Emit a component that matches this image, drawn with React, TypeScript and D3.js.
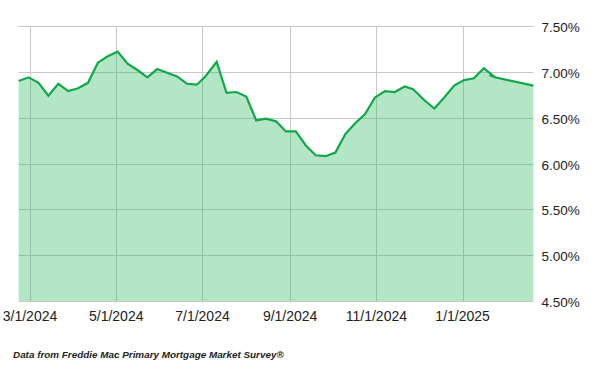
import React from "react";
import * as d3 from "d3";

const dates: string[] = [
  "2024-02-22","2024-02-29","2024-03-07","2024-03-14","2024-03-21","2024-03-28",
  "2024-04-04","2024-04-11","2024-04-18","2024-04-25","2024-05-02","2024-05-09",
  "2024-05-16","2024-05-23","2024-05-30","2024-06-06","2024-06-13","2024-06-20",
  "2024-06-27","2024-07-03","2024-07-11","2024-07-18","2024-07-25","2024-08-01",
  "2024-08-08","2024-08-15","2024-08-22","2024-08-29","2024-09-05","2024-09-12",
  "2024-09-19","2024-09-26","2024-10-03","2024-10-10","2024-10-17","2024-10-24",
  "2024-10-31","2024-11-07","2024-11-14","2024-11-21","2024-11-27","2024-12-05",
  "2024-12-12","2024-12-19","2024-12-26","2025-01-02","2025-01-09","2025-01-16",
  "2025-01-24","2025-02-20",
];
const rates: number[] = [
  6.90,6.94,6.88,6.74,6.87,6.79,
  6.82,6.88,7.10,7.17,7.22,7.09,
  7.02,6.94,7.03,6.99,6.95,6.87,
  6.86,6.95,7.11,6.77,6.78,6.73,
  6.47,6.49,6.46,6.35,6.35,6.20,
  6.09,6.08,6.12,6.32,6.44,6.54,
  6.72,6.79,6.78,6.84,6.81,6.69,
  6.60,6.72,6.85,6.91,6.93,7.04,
  6.94,6.85,
];
const stubDates: string[] = ["2025-01-20", "2025-01-24"];
const stubRates: number[] = [6.965, 6.94];

const xTickDates: string[] = ["2024-03-01","2024-05-01","2024-07-01","2024-09-01","2024-11-01","2025-01-01"];
const xTickLabels: string[] = ["3/1/2024","5/1/2024","7/1/2024","9/1/2024","11/1/2024","1/1/2025"];
const yTicks: number[] = [4.5, 5.0, 5.5, 6.0, 6.5, 7.0, 7.5];
const footnote = "Data from Freddie Mac Primary Mortgage Market Survey®";

const parse = d3.utcParse("%Y-%m-%d");

export default function App() {
  const W = 600, H = 371;
  const x = d3.scaleUtc()
    .domain([parse("2024-02-22")!, parse("2025-02-20")!])
    .range([18.7, 533.3]);
  const y = d3.scaleLinear().domain([4.5, 7.5]).range([301, 26]);

  const pts = dates.map((d, i) => ({ d: parse(d)!, v: rates[i] }));
  const stub = stubDates.map((d, i) => ({ d: parse(d)!, v: stubRates[i] }));

  const line = d3.line<{ d: Date; v: number }>().x(p => x(p.d)).y(p => y(p.v));
  const area = d3.area<{ d: Date; v: number }>().x(p => x(p.d)).y0(y(4.5)).y1(p => y(p.v));

  const font = "'Liberation Sans', Arial, sans-serif";
  const x0 = 18.5, x1 = 533.5;

  return (
    <svg width={W} height={H} style={{ position: "absolute", left: 0, top: 0, background: "#fff" }}>
      {yTicks.map(t => (
        <line key={"h" + t} x1={x0} x2={x1} y1={Math.round(y(t)) + 0.5} y2={Math.round(y(t)) + 0.5}
          stroke="#c8c8c8" strokeWidth={1} />
      ))}
      {xTickDates.map(t => {
        const xx = Math.round(x(parse(t)!)) + 0.5;
        return <line key={"v" + t} x1={xx} x2={xx} y1={y(7.5)} y2={y(4.5)} stroke="#c8c8c8" strokeWidth={1} />;
      })}
      <path d={area(pts)!} fill="rgba(35,183,87,0.345)" />
      <path d={line(pts)!} fill="none" stroke="#12a84a" strokeWidth={2.2} strokeLinejoin="miter" />
      <path d={line(stub)!} fill="none" stroke="#12a84a" strokeWidth={2.2} />
      {yTicks.map(t => (
        <text key={"yl" + t} x={541.5} y={y(t) + 6} fontFamily={font} fontSize={13.5} fill="#222">
          {t.toFixed(2) + "%"}
        </text>
      ))}
      {xTickDates.map((t, i) => (
        <text key={"xl" + t} x={x(parse(t)!)} y={321} textAnchor="middle" fontFamily={font} fontSize={14} fill="#222">
          {xTickLabels[i]}
        </text>
      ))}
      <text x={13} y={358} fontFamily={font} fontSize={9.9} fontStyle="italic" fontWeight="bold" fill="#222">
        {footnote}
      </text>
    </svg>
  );
}
